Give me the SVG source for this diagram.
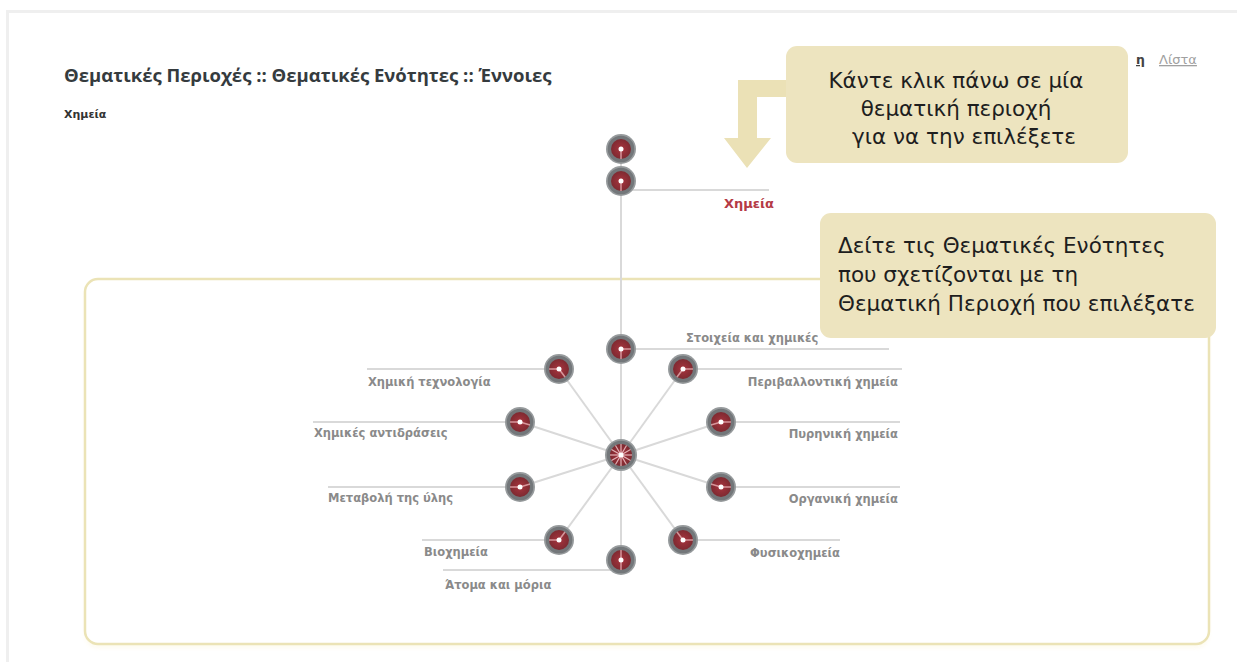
<svg xmlns="http://www.w3.org/2000/svg" width="1237" height="662" viewBox="0 0 1237 662">
<defs>
<radialGradient id="red" cx="50%" cy="50%" r="50%">
<stop offset="0" stop-color="#a8343e"/>
<stop offset="1" stop-color="#7e2a31"/>
</radialGradient>
<filter id="sh" x="-5%" y="-5%" width="110%" height="115%">
<feGaussianBlur stdDeviation="2"/>
</filter>
<g id="node">
<circle r="15" fill="#979b9d"/>
<circle r="13.3" fill="#73777a"/>
<circle r="10" fill="url(#red)"/>
</g>
</defs>
<style>
.lbl{font-family:"DejaVu Sans",Verdana,sans-serif;font-weight:bold;font-size:11.5px;fill:#8a8a8a}
.call{font-family:"DejaVu Sans",Verdana,sans-serif;font-size:21.5px;fill:#1e1e1e}
.ln{stroke:#d9d9d9;stroke-width:2;fill:none}
.sp{stroke:#e8b0b4;stroke-width:1.5;stroke-opacity:0.8}
.dot{fill:#fff}
</style>
<rect width="1237" height="662" fill="#ffffff"/>
<!-- page frame -->
<path d="M7.5 662 V11.5 H1237" fill="none" stroke="#efefef" stroke-width="3"/>

<g id="header">
<text x="64" y="82" font-family="'Open Sans','DejaVu Sans',sans-serif" font-weight="bold" font-size="18.5" fill="#353b3e">Θεματικές Περιοχές :: Θεματικές Ενότητες :: Έννοιες</text>
<text x="64" y="118" font-family="'DejaVu Sans',Verdana,sans-serif" font-weight="bold" font-size="11" fill="#333">Χημεία</text>
<text x="1136" y="64" font-family="'DejaVu Sans',Verdana,sans-serif" font-weight="bold" font-size="12.5" fill="#444" text-decoration="underline">η</text>
<text x="1159" y="64" font-family="'DejaVu Sans',Verdana,sans-serif" font-size="13" fill="#a0a0a0" text-decoration="underline">Λίστα</text>
</g>

<!-- big box -->
<g id="box">
<rect x="85" y="282" width="1124" height="366" rx="13" fill="#fdf8e4" opacity="0.6" filter="url(#sh)"/>
<rect x="85" y="279" width="1124" height="365" rx="13" fill="#ffffff" stroke="#ebe3b6" stroke-width="2.5"/>
</g>

<g id="connectors">
<line class="ln" x1="621" y1="149" x2="621" y2="560"/>
<line class="ln" x1="621" y1="190" x2="769" y2="190"/>
<line class="ln" x1="621" y1="349" x2="889" y2="349"/>
<line class="ln" x1="683" y1="369" x2="902" y2="369"/>
<line class="ln" x1="721" y1="422" x2="900" y2="422"/>
<line class="ln" x1="721" y1="487" x2="900" y2="487"/>
<line class="ln" x1="683" y1="540" x2="840" y2="540"/>
<line class="ln" x1="443" y1="570" x2="621" y2="570"/>
<line class="ln" x1="422" y1="540" x2="559" y2="540"/>
<line class="ln" x1="328" y1="487" x2="520" y2="487"/>
<line class="ln" x1="313" y1="422" x2="520" y2="422"/>
<line class="ln" x1="367" y1="369" x2="559" y2="369"/>
<line class="ln" x1="621" y1="455" x2="683" y2="369"/>
<line class="ln" x1="621" y1="455" x2="721" y2="422"/>
<line class="ln" x1="621" y1="455" x2="721" y2="487"/>
<line class="ln" x1="621" y1="455" x2="683" y2="540"/>
<line class="ln" x1="621" y1="455" x2="559" y2="540"/>
<line class="ln" x1="621" y1="455" x2="520" y2="487"/>
<line class="ln" x1="621" y1="455" x2="520" y2="422"/>
<line class="ln" x1="621" y1="455" x2="559" y2="369"/>
</g>

<g id="n-root1"><use href="#node" x="621" y="149"/><line class="sp" x1="621" y1="149" x2="621" y2="159"/><circle class="dot" cx="621" cy="149" r="2.5"/></g>
<g id="n-root2"><use href="#node" x="621" y="181"/><line class="sp" x1="621" y1="181" x2="621" y2="191"/><circle class="dot" cx="621" cy="181" r="2.5"/></g>
<g id="n-chemistry"><text x="774" y="208" text-anchor="end" font-family="'DejaVu Sans',Verdana,sans-serif" font-weight="bold" font-size="13" fill="#b53a45">Χημεία</text></g>

<g id="hub">
<circle cx="621" cy="455" r="16" fill="#979b9d"/>
<circle cx="621" cy="455" r="14.3" fill="#73777a"/>
<circle cx="621" cy="455" r="11" fill="url(#red)"/>
<g stroke="#f1c9cc" stroke-width="1.2" stroke-opacity="0.85">
<line x1="621" y1="455" x2="621" y2="444"/>
<line x1="621" y1="455" x2="621" y2="466"/>
<line x1="621" y1="455" x2="632" y2="455"/>
<line x1="621" y1="455" x2="610" y2="455"/>
<line x1="621" y1="455" x2="626.5" y2="445.5"/>
<line x1="621" y1="455" x2="615.5" y2="445.5"/>
<line x1="621" y1="455" x2="626.5" y2="464.5"/>
<line x1="621" y1="455" x2="615.5" y2="464.5"/>
<line x1="621" y1="455" x2="630.5" y2="449.5"/>
<line x1="621" y1="455" x2="611.5" y2="449.5"/>
<line x1="621" y1="455" x2="630.5" y2="460.5"/>
<line x1="621" y1="455" x2="611.5" y2="460.5"/>
</g>
<circle class="dot" cx="621" cy="455" r="2.5"/>
</g>

<g id="n-stoixeia"><use href="#node" x="621" y="349"/><line class="sp" x1="621" y1="349" x2="631" y2="349"/><line class="sp" x1="621" y1="349" x2="621" y2="359"/><circle class="dot" cx="621" cy="349" r="2.5"/>
<text class="lbl" x="686" y="342">Στοιχεία και χημικές</text></g>
<g id="n-perivallontiki"><use href="#node" x="683" y="369"/><line class="sp" x1="683" y1="369" x2="693" y2="369"/><line class="sp" x1="683" y1="369" x2="677" y2="377"/><circle class="dot" cx="683" cy="369" r="2.5"/>
<text class="lbl" x="898" y="386" text-anchor="end">Περιβαλλοντική χημεία</text></g>
<g id="n-pyriniki"><use href="#node" x="721" y="422"/><line class="sp" x1="721" y1="422" x2="731" y2="422"/><line class="sp" x1="721" y1="422" x2="711" y2="425"/><circle class="dot" cx="721" cy="422" r="2.5"/>
<text class="lbl" x="898" y="438" text-anchor="end">Πυρηνική χημεία</text></g>
<g id="n-organiki"><use href="#node" x="721" y="487"/><line class="sp" x1="721" y1="487" x2="731" y2="487"/><line class="sp" x1="721" y1="487" x2="711" y2="484"/><circle class="dot" cx="721" cy="487" r="2.5"/>
<text class="lbl" x="898" y="503" text-anchor="end">Οργανική χημεία</text></g>
<g id="n-fysikoxhmeia"><use href="#node" x="683" y="540"/><line class="sp" x1="683" y1="540" x2="693" y2="540"/><line class="sp" x1="683" y1="540" x2="677" y2="532"/><circle class="dot" cx="683" cy="540" r="2.5"/>
<text class="lbl" x="840" y="557" text-anchor="end">Φυσικοχημεία</text></g>
<g id="n-atoma"><use href="#node" x="621" y="560"/><line class="sp" x1="621" y1="560" x2="621" y2="550"/><line class="sp" x1="621" y1="560" x2="621" y2="570"/><circle class="dot" cx="621" cy="560" r="2.5"/>
<text class="lbl" x="445" y="589">Άτομα και μόρια</text></g>
<g id="n-bioxhmeia"><use href="#node" x="559" y="540"/><line class="sp" x1="559" y1="540" x2="549" y2="540"/><line class="sp" x1="559" y1="540" x2="565" y2="532"/><circle class="dot" cx="559" cy="540" r="2.5"/>
<text class="lbl" x="424" y="556">Βιοχημεία</text></g>
<g id="n-metavoli"><use href="#node" x="520" y="487"/><line class="sp" x1="520" y1="487" x2="510" y2="487"/><line class="sp" x1="520" y1="487" x2="530" y2="484"/><circle class="dot" cx="520" cy="487" r="2.5"/>
<text class="lbl" x="328" y="502">Μεταβολή της ύλης</text></g>
<g id="n-antidraseis"><use href="#node" x="520" y="422"/><line class="sp" x1="520" y1="422" x2="510" y2="422"/><line class="sp" x1="520" y1="422" x2="530" y2="425"/><circle class="dot" cx="520" cy="422" r="2.5"/>
<text class="lbl" x="314" y="437">Χημικές αντιδράσεις</text></g>
<g id="n-texnologia"><use href="#node" x="559" y="369"/><line class="sp" x1="559" y1="369" x2="549" y2="369"/><line class="sp" x1="559" y1="369" x2="565" y2="377"/><circle class="dot" cx="559" cy="369" r="2.5"/>
<text class="lbl" x="368" y="386">Χημική τεχνολογία</text></g>

<g id="callout1">
<path d="M788 80 H738 V138 H724 L747 168 L771 138 H757 V97 H788 Z" fill="#ebe1b6"/>
<rect x="786" y="46" width="342" height="117" rx="11" fill="#ede4bf"/>
<text class="call" x="956" y="88" text-anchor="middle">Κάντε κλικ πάνω σε μία</text>
<text class="call" x="956" y="116" text-anchor="middle">θεματική περιοχή</text>
<text class="call" x="964" y="144" text-anchor="middle">για να την επιλέξετε</text>
</g>

<g id="callout2">
<rect x="820" y="213" width="396" height="125" rx="11" fill="#ede4bf"/>
<text class="call" x="838" y="253">Δείτε τις Θεματικές Ενότητες</text>
<text class="call" x="838" y="282">που σχετίζονται με τη</text>
<text class="call" x="838" y="311">Θεματική Περιοχή που επιλέξατε</text>
</g>
</svg>
